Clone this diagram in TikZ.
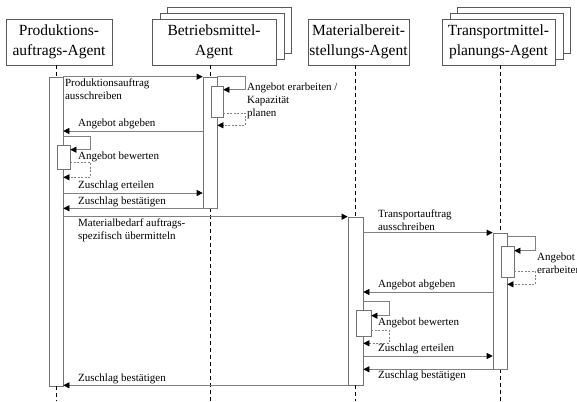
\documentclass[tikz,border=0pt]{standalone}
\usepackage{fontspec}
\setmainfont{Liberation Serif}
\usetikzlibrary{arrows.meta}

\begin{document}
\begin{tikzpicture}[x=1pt, y=-1pt,
    agent/.style={draw=black!65, fill=white, align=center, minimum height=46pt,
      inner sep=0pt, font=\fontsize{15.5}{20}\selectfont},
    bar/.style={draw=black!55, fill=white, inner sep=0pt, line width=0.6pt},
    msg/.style={draw=black!50, line width=0.6pt,
      -{Triangle[color=black, length=6pt, width=6pt]}},
    ret/.style={msg, dash pattern=on 2pt off 1.5pt},
    life/.style={black, dash pattern=on 4pt off 3pt, line width=0.9pt},
    lbl/.style={align=left, inner sep=1.5pt, font=\fontsize{11}{13}\selectfont}]
    \useasboundingbox (0, 0) rectangle (577, 401);
    \coordinate (bot) at (0, 401);
    \coordinate (abg1) at (0, 131);
    \coordinate (ert1) at (0, 193);
    \coordinate (abg2) at (0, 292);
    \coordinate (ert2) at (0, 356);

    % agents
    \path (59, 42) node [agent, minimum width=106pt] (pa) {Produktions-\\auftrags-Agent};
    \path (229, 30) node [agent, minimum width=124pt] (bm3) {};
    \path (222, 36) node [agent, minimum width=124pt] (bm2) {};
    \path (214, 42) node [agent, minimum width=124pt] (bm) {Betriebsmittel-\\Agent};
    \path (358.5, 42) node [agent, minimum width=101pt] (mb) {Materialbereit-\\stellungs-Agent};
    \path (513.5, 30) node [agent, minimum width=113pt] (tm3) {};
    \path (506.5, 36) node [agent, minimum width=113pt] (tm2) {};
    \path (498.5, 42) node [agent, minimum width=113pt] (tm) {Transportmittel-\\planungs-Agent};

    % activation bars
    \path (56, 231.5) node [bar, minimum width=14pt, minimum height=309pt] (pab) {};
    \path (210, 142.5) node [bar, minimum width=14pt, minimum height=131pt] (bmb) {};
    \path (355.5, 301) node [bar, minimum width=15pt, minimum height=168pt] (mbb) {};
    \path (500, 301) node [bar, minimum width=14pt, minimum height=136pt] (tmb) {};

    % lifelines
    \draw [life] (pa.south -| pab.north) -- (pab.north);
    \draw [life] (pab.south) -- (pab |- bot);
    \draw [life] (bm.south -| bmb.north) -- (bmb.north);
    \draw [life] (bmb.south) -- (bmb |- bot);
    \draw [life] (mb.south -| mbb.north) -- (mbb.north);
    \draw [life] (mbb.south) -- (mbb |- bot);
    \draw [life] (tm.south -| tmb.north) -- (tmb.north);
    \draw [life] (tmb.south) -- (tmb |- bot);

    % nested bars
    \path (217, 101.5) node [bar, minimum width=12pt, minimum height=31pt] (bmn) {};
    \path (63.5, 157) node [bar, minimum width=13pt, minimum height=24pt] (pan) {};
    \path (363.5, 323) node [bar, minimum width=15pt, minimum height=26pt] (mbn) {};
    \path (507.5, 261.5) node [bar, minimum width=13pt, minimum height=31pt] (tmn) {};

    % Produktion <-> Betriebsmittel
    \draw [msg] (pab.north east) node [lbl, below right] {Produktionsauftrag\\ausschreiben}
      -- (bmb.north west);
    \draw [msg] (bmb.north east) -- ++(28, 0)
      node [lbl, below right, yshift=-4pt] {Angebot erarbeiten /\\Kapazität\\planen}
      -- ++(0, 13) -- ++(-22, 0);
    \draw [ret] ([yshift=4pt]bmn.south east) -- ++(22, 0) -- ++(0, 12) -- ++(-28, 0);
    \draw [msg] (bmb.west |- abg1) -- (pab.east |- abg1)
      node [lbl, above right, xshift=13pt] {Angebot abgeben};
    \draw [msg] ([yshift=8pt]pan.north -| pab.east) -- ++(27, 0) -- ++(0, 13) -- ++(-20, 0)
      node [lbl, below right, xshift=6pt] {Angebot bewerten};
    \draw [ret] ([yshift=7pt]pan.south east) -- ++(20, 0) -- ++(0, 15) -- ++(-27, 0);
    \draw [msg] (pab.east |- ert1) node [lbl, above right, xshift=13pt] {Zuschlag erteilen}
      -- (bmb.west |- ert1);
    \draw [msg] (bmb.south east) -- (pab.east |- bmb.south)
      node [lbl, above right, xshift=13pt] {Zuschlag bestätigen};

    % Produktion -> Material
    \draw [msg] (pab.east |- mbb.north)
      node [lbl, below right, xshift=13pt] {Materialbedarf\ auftrags-\\spezifisch übermitteln}
      -- (mbb.north west);

    % Material <-> Transport
    \draw [msg] (mbb.east |- tmb.north)
      node [lbl, above right, xshift=13pt] {Transportauftrag\\ausschreiben} -- (tmb.north west);
    \draw [msg] ([yshift=9pt]tmn.north -| tmb.east) -- ++(28, 0) -- ++(0, 14)
      node [lbl, below right] {Angebot\\erarbeiten} -- ++(-21, 0);
    \draw [ret] ([yshift=6pt]tmn.south east) -- ++(21, 0) -- ++(0, 13) -- ++(-28, 0);
    \draw [msg] (tmb.west |- abg2) -- (mbb.east |- abg2)
      node [lbl, above right, xshift=13pt] {Angebot abgeben};
    \draw [msg] ([yshift=8pt]mbn.north -| mbb.east) -- ++(26, 0) -- ++(0, 14) -- ++(-18, 0)
      node [lbl, below right, xshift=5pt] {Angebot bewerten};
    \draw [ret] ([yshift=6pt]mbn.south east) -- ++(18, 0) -- ++(0, 13) -- ++(-26, 0);
    \draw [msg] (mbb.east |- ert2) node [lbl, above right, xshift=13pt] {Zuschlag erteilen}
      -- (tmb.west |- ert2);
    \draw [msg] (tmb.south east) -- (mbb.east |- tmb.south)
      node [lbl, below right, xshift=13pt] {Zuschlag bestätigen};

    % Material -> Produktion
    \draw [msg] (mbb.south west) -- (pab.east |- mbb.south)
      node [lbl, above right, xshift=13pt] {Zuschlag bestätigen};
\end{tikzpicture}
\end{document}
